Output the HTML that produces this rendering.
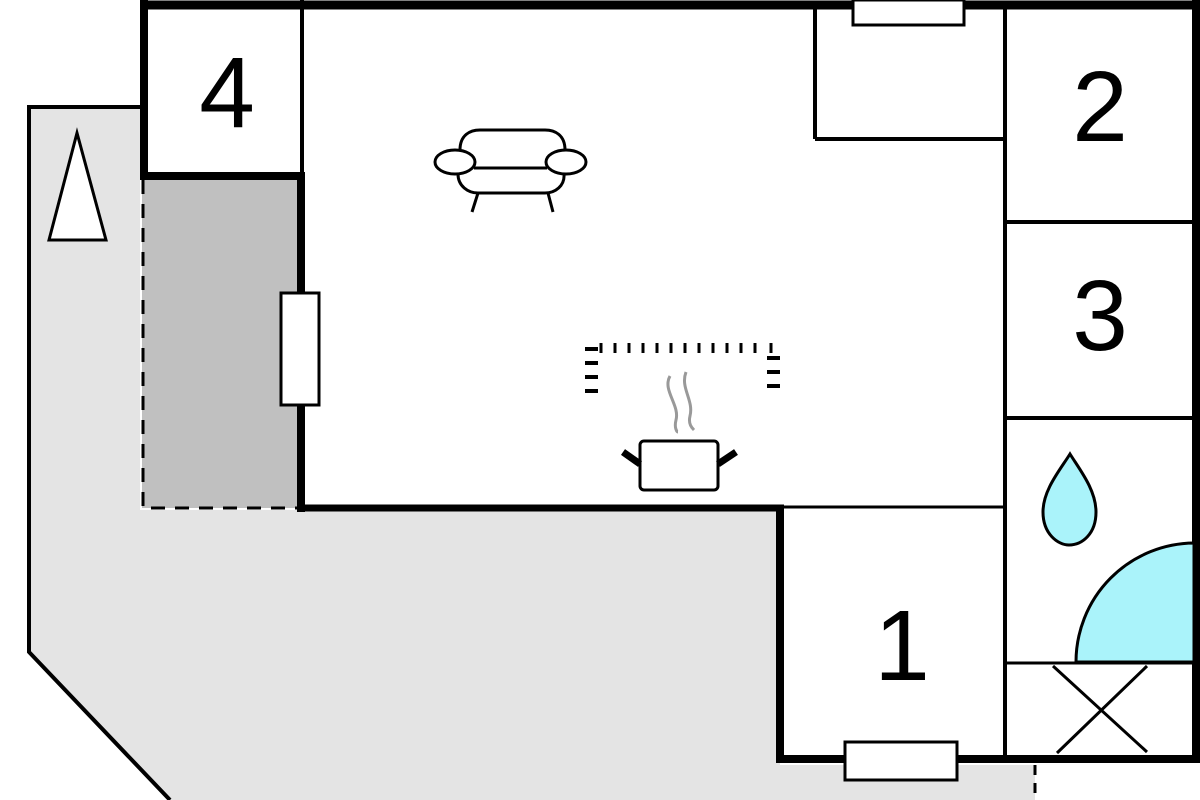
<!DOCTYPE html>
<html><head><meta charset="utf-8"><style>html,body{margin:0;padding:0;background:#fff;width:1200px;height:800px;overflow:hidden}</style></head><body>
<svg width="1200" height="800" viewBox="0 0 1200 800" xmlns="http://www.w3.org/2000/svg">
<polygon points="29,107 140,107 140,510 780,510 780,765 1035,765 1035,800 170,800 29,652" fill="#e4e4e4"/>
<polyline points="140,107 29,107 29,652 170,800" fill="none" stroke="#000" stroke-width="4"/>
<rect x="142" y="178" width="158" height="330" fill="#c0c0c0"/>
<polyline points="143,180 143,508 300,508" fill="none" stroke="#000" stroke-width="3" stroke-dasharray="14,10"/>
<line x1="1035" y1="765" x2="1035" y2="800" stroke="#000" stroke-width="3" stroke-dasharray="10,8"/>
<rect x="305" y="9" width="890" height="497" fill="#fff"/>
<rect x="148" y="9" width="152" height="164" fill="#fff"/>
<rect x="784" y="505" width="412" height="254" fill="#fff"/>
<polygon points="49,240 77,133 106,240" fill="#fff" stroke="#000" stroke-width="3"/>
<g stroke="#000" fill="none">
<line x1="140" y1="5" x2="1200" y2="5" stroke-width="9"/>
<line x1="144" y1="0" x2="144" y2="180" stroke-width="8"/>
<line x1="140" y1="176" x2="305" y2="176" stroke-width="8"/>
<line x1="302" y1="0" x2="302" y2="176" stroke-width="4"/>
<line x1="301" y1="172" x2="301" y2="512" stroke-width="8"/>
<line x1="297" y1="508" x2="784" y2="508" stroke-width="7"/>
<line x1="780" y1="505" x2="780" y2="763" stroke-width="8"/>
<line x1="776" y1="759" x2="1200" y2="759" stroke-width="8"/>
<line x1="1196" y1="0" x2="1196" y2="763" stroke-width="8"/>
<line x1="1005" y1="5" x2="1005" y2="760" stroke-width="4"/>
<line x1="1005" y1="222" x2="1196" y2="222" stroke-width="4"/>
<line x1="1005" y1="418" x2="1196" y2="418" stroke-width="4"/>
<line x1="784" y1="507" x2="1005" y2="507" stroke-width="3"/>
<line x1="815" y1="5" x2="815" y2="139" stroke-width="4"/>
<line x1="815" y1="139" x2="1005" y2="139" stroke-width="4"/>
</g>
<rect x="853" y="0" width="111" height="25" fill="#fff" stroke="#000" stroke-width="3"/>
<rect x="281" y="293" width="38" height="112" fill="#fff" stroke="#000" stroke-width="3"/>
<rect x="845" y="742" width="112" height="38" fill="#fff" stroke="#000" stroke-width="3"/>
<path d="M1194,543 A119,119 0 0 0 1076,662 L1194,662 Z" fill="#aaf3fa" stroke="#000" stroke-width="3"/>
<line x1="1005" y1="663" x2="1196" y2="663" stroke="#000" stroke-width="3"/>
<path d="M1070,454 C1060,470 1043,490 1043,512 C1043,534 1058,545 1069,545 C1082,545 1096,534 1096,512 C1096,490 1080,470 1070,454 Z" fill="#aaf3fa" stroke="#000" stroke-width="3"/>
<g stroke="#000" stroke-width="3"><line x1="1053" y1="666" x2="1147" y2="752"/><line x1="1147" y1="666" x2="1057" y2="753"/></g>
<g font-family="Liberation Sans, sans-serif" font-size="100" text-anchor="middle" fill="#000">
<text x="227" y="127">4</text><text x="1100" y="141">2</text><text x="1100" y="350">3</text><text x="902" y="680">1</text>
</g>
<g fill="none" stroke="#000" stroke-width="3">
<path d="M460,150 C460,135 470,130 480,130 L545,130 C555,130 565,135 565,150"/>
<ellipse cx="455" cy="162" rx="20" ry="12" fill="#fff"/>
<ellipse cx="566" cy="162" rx="20" ry="12" fill="#fff"/>
<line x1="474" y1="168" x2="547" y2="168"/>
<path d="M458,174 C458,186 468,193 478,193 L545,193 C555,193 565,186 564,174"/>
<line x1="478" y1="193" x2="472" y2="212"/><line x1="548" y1="193" x2="553" y2="212"/>
</g>
<g stroke="#000" stroke-width="3">
<path d="M601,343v10 M615,343v10 M629,343v10 M643,343v10 M657,343v10 M671,343v10 M685,343v10 M699,343v10 M713,343v10 M727,343v10 M741,343v10 M755,343v10 M771,343v10"/>
<path d="M585,349h13 M585,363h13 M585,377h13 M585,391h13 M767,358h13 M767,372h13 M767,386h13" stroke-width="4"/>
</g>
<g fill="none" stroke="#999" stroke-width="3">
<path d="M670,376 C662,390 680,405 676,420 C674,428 677,432 678,432"/>
<path d="M686,372 C680,388 694,400 690,416 C688,424 692,428 694,430"/>
</g>
<rect x="640" y="441" width="78" height="49" rx="4" fill="#fff" stroke="#000" stroke-width="3"/>
<g stroke="#000" stroke-width="7"><line x1="623" y1="452" x2="640" y2="464"/><line x1="718" y1="464" x2="736" y2="452"/></g>
</svg>
</body></html>
